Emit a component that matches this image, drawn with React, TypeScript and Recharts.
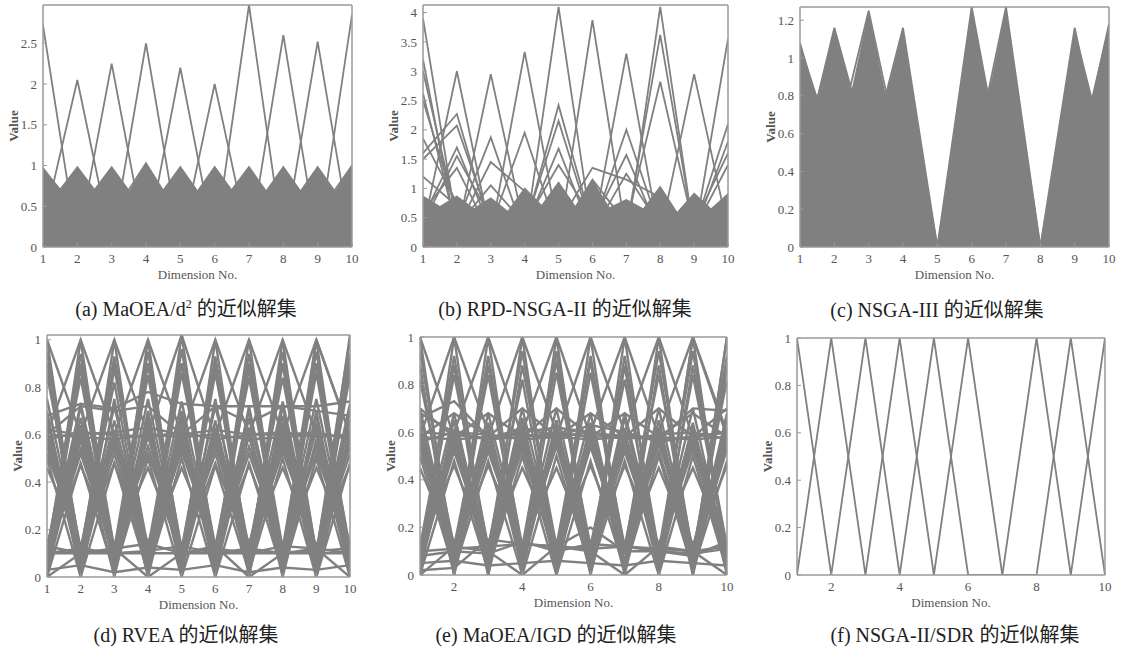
import React from 'react';
import { ComposedChart, Line, Area, XAxis, YAxis } from 'recharts';

const SERIF = '"Liberation Serif", "Times New Roman", "Noto Sans CJK SC", serif';
const GRAY = '#808080';
const AX = '#9a9a9a';
const TXT = '#555';

const dims = [1, 2, 3, 4, 5, 6, 7, 8, 9, 10];
const halfSteps = [1, 1.5, 2, 2.5, 3, 3.5, 4, 4.5, 5, 5.5, 6, 6.5, 7, 7.5, 8, 8.5, 9, 9.5, 10];

// (a) MaOEA/d2
const aTicks = [0, 0.5, 1, 1.5, 2, 2.5];
const aBandY = [0.97, 0.72, 0.98, 0.7, 0.98, 0.68, 1.03, 0.7, 0.98, 0.68, 0.98, 0.7, 0.98, 0.68, 0.98, 0.68, 0.98, 0.68, 1.0];
const aLines = [
  [2.72, 0.02, 0.3, 0.2, 0.35, 0.15, 0.25, 0.3, 0.2, 0.1],
  [0.23, 2.05, 0.03, 0.25, 0.2, 0.3, 0.15, 0.2, 0.35, 0.25],
  [0.3, 0.02, 2.25, 0.02, 0.2, 0.25, 0.3, 0.15, 0.2, 0.3],
  [0.2, 0.3, 0.03, 2.5, 0.02, 0.2, 0.25, 0.3, 0.15, 0.2],
  [0.25, 0.2, 0.3, 0.02, 2.2, 0.03, 0.2, 0.25, 0.3, 0.15],
  [0.15, 0.25, 0.2, 0.3, 0.02, 2.0, 0.05, 0.2, 0.25, 0.3],
  [0.3, 0.15, 0.25, 0.2, 0.3, 0.03, 2.97, 0.02, 0.2, 0.25],
  [0.2, 0.3, 0.15, 0.25, 0.2, 0.3, 0.02, 2.6, 0.03, 0.2],
  [0.25, 0.2, 0.3, 0.15, 0.25, 0.2, 0.3, 0.02, 2.52, 0.02],
  [0.1, 0.25, 0.2, 0.3, 0.15, 0.25, 0.2, 0.3, 0.03, 2.85],
  [0.97, 0.42, 0.3, 0.2, 0.35, 0.25, 0.3, 0.2, 0.4, 0.3],
  [0.42, 0.98, 0.42, 0.3, 0.2, 0.35, 0.25, 0.3, 0.2, 0.4],
  [0.3, 0.42, 0.98, 0.4, 0.3, 0.2, 0.35, 0.25, 0.3, 0.2],
  [0.2, 0.3, 0.38, 1.03, 0.35, 0.3, 0.2, 0.35, 0.25, 0.3],
  [0.35, 0.2, 0.3, 0.4, 0.98, 0.38, 0.3, 0.2, 0.35, 0.25],
  [0.25, 0.35, 0.2, 0.3, 0.38, 0.98, 0.4, 0.3, 0.2, 0.35],
  [0.3, 0.25, 0.35, 0.2, 0.3, 0.42, 0.98, 0.38, 0.3, 0.2],
  [0.2, 0.3, 0.25, 0.35, 0.2, 0.3, 0.38, 0.98, 0.38, 0.3],
  [0.4, 0.2, 0.3, 0.25, 0.35, 0.2, 0.3, 0.38, 0.98, 0.38],
  [0.3, 0.4, 0.2, 0.3, 0.25, 0.35, 0.2, 0.3, 0.4, 1.0],
];

// (b) RPD-NSGA-II
const bTicks = [0, 0.5, 1, 1.5, 2, 2.5, 3, 3.5, 4];
const bBandY = [0.88, 0.7, 0.88, 0.66, 0.85, 0.62, 1.02, 0.72, 1.12, 0.7, 1.15, 0.68, 0.82, 0.66, 1.05, 0.6, 0.93, 0.66, 0.92];
const bLines = [
  [3.9, 0.35, 0.2, 0.4, 0.3, 0.25, 0.3, 0.2, 0.35, 0.3],
  [3.2, 0.2, 0.4, 0.3, 0.25, 0.35, 0.2, 0.3, 0.25, 0.4],
  [3.0, 0.5, 0.3, 0.2, 0.4, 0.3, 0.35, 0.25, 0.3, 0.2],
  [2.62, 0.3, 0.25, 0.35, 0.2, 0.4, 0.3, 0.3, 0.2, 0.35],
  [2.5, 0.6, 0.35, 0.3, 0.3, 0.2, 0.25, 0.4, 0.3, 0.25],
  [1.85, 0.75, 0.3, 0.25, 0.35, 0.3, 0.2, 0.3, 0.4, 0.3],
  [1.6, 2.27, 0.3, 0.35, 0.2, 0.3, 0.4, 0.25, 0.3, 0.2],
  [1.5, 2.07, 0.4, 0.3, 0.3, 0.25, 0.3, 0.35, 0.2, 0.3],
  [1.2, 0.7, 0.3, 0.2, 0.3, 0.35, 0.25, 0.3, 0.3, 0.4],
  [0.3, 3.0, 0.2, 0.35, 0.3, 0.25, 0.3, 0.2, 0.4, 0.3],
  [0.5, 1.7, 0.3, 0.25, 0.4, 0.3, 0.2, 0.35, 0.3, 0.25],
  [0.4, 1.55, 0.5, 0.3, 0.2, 0.35, 0.3, 0.25, 0.35, 0.3],
  [0.6, 1.35, 0.2, 0.4, 0.3, 0.3, 0.35, 0.3, 0.2, 0.35],
  [0.3, 0.2, 2.95, 0.3, 0.35, 0.2, 0.3, 0.4, 0.25, 0.3],
  [0.25, 0.4, 1.87, 0.2, 0.3, 0.35, 0.25, 0.3, 0.3, 0.2],
  [0.35, 0.3, 1.45, 0.95, 0.3, 0.25, 0.3, 0.2, 0.35, 0.3],
  [0.2, 0.35, 1.05, 0.4, 0.25, 0.3, 0.35, 0.3, 0.2, 0.4],
  [0.3, 0.25, 0.2, 3.33, 0.3, 0.4, 0.3, 0.25, 0.35, 0.2],
  [0.4, 0.3, 0.35, 1.95, 0.2, 0.3, 0.25, 0.35, 0.3, 0.3],
  [0.3, 0.35, 0.3, 0.1, 4.1, 0.2, 0.3, 0.35, 0.25, 0.3],
  [0.25, 0.3, 0.4, 0.3, 2.42, 0.35, 0.2, 0.3, 0.3, 0.35],
  [0.35, 0.2, 0.3, 0.35, 2.15, 0.3, 0.3, 0.25, 0.4, 0.2],
  [0.3, 0.4, 0.25, 0.3, 1.68, 0.2, 0.35, 0.3, 0.3, 0.25],
  [0.2, 0.3, 0.35, 0.4, 1.4, 0.5, 0.3, 0.2, 0.35, 0.3],
  [0.35, 0.25, 0.3, 0.2, 0.1, 3.87, 0.2, 0.3, 0.3, 0.4],
  [0.3, 0.3, 0.2, 0.35, 0.4, 1.35, 1.15, 0.85, 0.3, 0.25],
  [0.25, 0.35, 0.3, 0.3, 0.2, 1.15, 0.4, 0.3, 0.35, 0.3],
  [0.3, 0.2, 0.35, 0.25, 0.3, 0.2, 3.3, 0.1, 0.3, 0.35],
  [0.4, 0.3, 0.3, 0.35, 0.25, 0.3, 2.0, 0.3, 0.2, 0.3],
  [0.2, 0.35, 0.25, 0.3, 0.3, 0.4, 1.57, 0.2, 0.35, 0.25],
  [0.35, 0.3, 0.4, 0.2, 0.35, 0.25, 1.25, 0.35, 0.3, 0.3],
  [0.3, 0.25, 0.3, 0.4, 0.2, 0.3, 0.1, 4.1, 0.2, 0.35],
  [0.25, 0.4, 0.2, 0.3, 0.35, 0.3, 0.3, 3.62, 0.25, 0.3],
  [0.35, 0.3, 0.35, 0.25, 0.3, 0.2, 0.4, 2.82, 0.3, 0.2],
  [0.3, 0.2, 0.3, 0.35, 0.25, 0.35, 0.3, 0.2, 2.95, 0.3],
  [0.2, 0.35, 0.25, 0.3, 0.4, 0.3, 0.25, 0.3, 0.15, 3.55],
  [0.35, 0.3, 0.3, 0.2, 0.3, 0.35, 0.3, 0.25, 0.3, 2.1],
  [0.3, 0.25, 0.35, 0.3, 0.2, 0.3, 0.4, 0.3, 0.25, 1.8],
  [0.25, 0.3, 0.2, 0.35, 0.3, 0.25, 0.3, 0.35, 0.4, 1.6],
  [0.3, 0.4, 0.3, 0.25, 0.35, 0.3, 0.2, 0.3, 0.3, 1.4],
];

// (c) NSGA-III
const cTicks = [0, 0.2, 0.4, 0.6, 0.8, 1, 1.2];
const cBandX = [1, 1.5, 2, 2.5, 3, 3.5, 4, 5, 6, 6.5, 7, 8, 9, 9.5, 10];
const cBandY = [1.08, 0.8, 1.16, 0.83, 1.25, 0.8, 1.16, 0, 1.27, 0.8, 1.27, 0, 1.16, 0.8, 1.18];
const cLines = [
  [1.08, 0.45, 0.3, 0.5, 0, 0.6, 0.4, 0, 0.5, 0.3],
  [0.4, 1.16, 0.5, 0.3, 0, 0.4, 0.6, 0, 0.3, 0.5],
  [0.3, 0.5, 1.25, 0.4, 0, 0.5, 0.3, 0, 0.6, 0.4],
  [0.5, 0.3, 0.45, 1.16, 0, 0.3, 0.5, 0, 0.4, 0.6],
  [0.4, 0.6, 0.3, 0.5, 0, 1.27, 0.3, 0, 0.5, 0.4],
  [0.3, 0.4, 0.5, 0.3, 0, 0.4, 1.27, 0, 0.3, 0.5],
  [0.5, 0.3, 0.4, 0.5, 0, 0.3, 0.4, 0, 1.16, 0.3],
  [0.4, 0.5, 0.3, 0.4, 0, 0.5, 0.3, 0, 0.35, 1.18],
  [0.3, 0.4, 1.15, 0.3, 0, 0.3, 0.4, 0, 0.5, 0.3],
  [0.5, 0.3, 0.3, 1.03, 0, 0.4, 0.3, 0, 0.3, 0.5],
  [0.3, 0.5, 0.4, 0.93, 0, 0.3, 0.5, 0, 0.4, 0.3],
  [0.4, 0.3, 0.5, 0.4, 0, 1.07, 0.3, 0, 0.5, 0.4],
  [0.5, 0.4, 0.3, 0.5, 0, 0.93, 0.4, 0, 0.3, 0.3],
  [0.3, 0.5, 0.4, 0.3, 0, 0.4, 1.2, 0, 0.4, 0.5],
  [0.4, 0.3, 0.5, 0.4, 0, 0.3, 0.5, 0, 1.03, 0.4],
  [0.3, 1.1, 0.4, 0.5, 0, 0.5, 0.3, 0, 0.4, 0.3],
];

// (d) RVEA
const unitTicks = [0, 0.2, 0.4, 0.6, 0.8, 1];
const dLines = [
  [1.0, 0.05, 1.0, 0.04, 1.02, 0.06, 1.0, 0.05, 1.0, 0.03],
  [0.95, 0.1, 0.93, 0.08, 0.96, 0.1, 0.94, 0.12, 0.95, 0.1],
  [0.9, 0.02, 0.88, 0.12, 0.9, 0.03, 0.88, 0.02, 0.9, 0.12],
  [0.85, 0.12, 0.82, 0.06, 0.86, 0.13, 0.84, 0.08, 0.86, 0.06],
  [0.75, 0.08, 0.72, 0.1, 0.74, 0.08, 0.7, 0.1, 0.75, 0.08],
  [0.7, 0.0, 0.75, 0.02, 0.7, 0.0, 0.72, 0.03, 0.7, 0.0],
  [0.62, 0.12, 0.6, 0.14, 0.62, 0.12, 0.6, 0.1, 0.62, 0.14],
  [0.6, 0.03, 0.58, 0.0, 0.6, 0.02, 0.6, 0.0, 0.58, 0.02],
  [0.55, 0.1, 0.52, 0.06, 0.55, 0.1, 0.52, 0.12, 0.55, 0.08],
  [0.5, 0.0, 0.48, 0.02, 0.5, 0.0, 0.48, 0.02, 0.5, 0.0],
  [0.46, 0.13, 0.48, 0.1, 0.46, 0.12, 0.47, 0.1, 0.46, 0.13],
  [0.65, 0.02, 0.62, 0.05, 0.66, 0.03, 0.63, 0.02, 0.65, 0.04],
  [0.57, 0.08, 0.6, 0.1, 0.58, 0.06, 0.6, 0.09, 0.57, 0.07],
  [0.52, 0.13, 0.55, 0.11, 0.53, 0.12, 0.55, 0.13, 0.52, 0.11],
  [0.68, 0.06, 0.66, 0.08, 0.68, 0.05, 0.67, 0.07, 0.68, 0.06],
  [0.04, 1.0, 0.05, 1.0, 0.03, 1.0, 0.05, 1.0, 0.04, 1.02],
  [0.1, 0.94, 0.12, 0.95, 0.1, 0.93, 0.08, 0.95, 0.1, 0.94],
  [0.03, 0.88, 0.02, 0.9, 0.12, 0.88, 0.03, 0.9, 0.02, 0.88],
  [0.12, 0.84, 0.08, 0.85, 0.06, 0.86, 0.12, 0.84, 0.08, 0.85],
  [0.08, 0.73, 0.1, 0.75, 0.08, 0.72, 0.1, 0.74, 0.08, 0.73],
  [0.0, 0.72, 0.03, 0.7, 0.02, 0.75, 0.0, 0.72, 0.03, 0.7],
  [0.14, 0.6, 0.12, 0.62, 0.1, 0.6, 0.14, 0.62, 0.12, 0.6],
  [0.02, 0.58, 0.0, 0.6, 0.03, 0.58, 0.02, 0.6, 0.0, 0.58],
  [0.08, 0.52, 0.1, 0.55, 0.12, 0.52, 0.06, 0.55, 0.1, 0.52],
  [0.0, 0.48, 0.02, 0.5, 0.0, 0.47, 0.02, 0.5, 0.0, 0.48],
  [0.12, 0.47, 0.13, 0.46, 0.1, 0.48, 0.12, 0.46, 0.13, 0.47],
  [0.03, 0.64, 0.05, 0.66, 0.02, 0.63, 0.04, 0.65, 0.03, 0.62],
  [0.07, 0.58, 0.09, 0.6, 0.06, 0.57, 0.1, 0.58, 0.08, 0.6],
  [0.11, 0.54, 0.13, 0.52, 0.12, 0.55, 0.11, 0.53, 0.13, 0.55],
  [0.05, 0.67, 0.07, 0.68, 0.06, 0.66, 0.05, 0.68, 0.07, 0.66],
  [1.0, 0.6, 0.05, 0.6, 1.02, 0.58, 0.1, 0.6, 1.0, 0.6],
  [0.6, 1.0, 0.6, 0.1, 0.6, 1.0, 0.6, 1.0, 0.6, 0.1],
  [0.1, 0.6, 1.0, 0.6, 0.1, 0.6, 1.0, 0.6, 0.1, 1.0],
  [0.6, 0.1, 0.6, 1.0, 0.6, 0.1, 0.6, 0.1, 1.0, 0.6],
  [0.6, 0.59, 0.58, 0.6, 0.59, 0.6, 0.58, 0.59, 0.6, 0.59],
  [0.58, 0.61, 0.6, 0.59, 0.61, 0.58, 0.6, 0.61, 0.59, 0.6],
  [0.62, 0.6, 0.61, 0.63, 0.6, 0.62, 0.6, 0.6, 0.61, 0.58],
  [0.68, 0.73, 0.71, 0.78, 0.73, 0.72, 0.65, 0.72, 0.72, 0.74],
  [0.6, 0.72, 0.7, 0.72, 0.6, 0.72, 0.72, 0.72, 0.7, 0.68],
  [0.1, 0.12, 0.1, 0.11, 0.13, 0.1, 0.12, 0.1, 0.11, 0.12],
  [0.13, 0.1, 0.12, 0.14, 0.1, 0.12, 0.1, 0.13, 0.12, 0.1],
  [0.03, 0.05, 0.02, 0.04, 0.03, 0.05, 0.02, 0.04, 0.03, 0.05],
  [0.0, 0.1, 0.12, 0.0, 0.1, 0.13, 0.0, 0.1, 0.12, 0.0],
  [0.9, 0.1, 0.1, 0.9, 0.1, 0.1, 0.9, 0.1, 0.1, 0.9],
  [0.1, 0.9, 0.1, 0.1, 0.9, 0.1, 0.1, 0.9, 0.1, 0.1],
  [0.1, 0.1, 0.9, 0.1, 0.1, 0.9, 0.1, 0.1, 0.9, 0.1],
];

// (e) MaOEA/IGD
const evenDims = [2, 4, 6, 8, 10];
const eLines = [
  [1.0, 0.03, 1.0, 0.03, 1.0, 0.03, 1.0, 0.03, 1.0, 0.03],
  [0.94, 0.08, 0.92, 0.1, 0.94, 0.08, 0.92, 0.1, 0.94, 0.08],
  [0.88, 0.0, 0.88, 0.12, 0.9, 0.02, 0.88, 0.0, 0.88, 0.12],
  [0.82, 0.12, 0.84, 0.06, 0.85, 0.12, 0.82, 0.06, 0.84, 0.1],
  [0.7, 0.06, 0.68, 0.1, 0.7, 0.05, 0.68, 0.1, 0.7, 0.06],
  [0.62, 0.0, 0.6, 0.02, 0.62, 0.0, 0.6, 0.02, 0.6, 0.0],
  [0.6, 0.1, 0.58, 0.12, 0.6, 0.1, 0.58, 0.12, 0.6, 0.1],
  [0.58, 0.04, 0.57, 0.06, 0.58, 0.04, 0.57, 0.06, 0.58, 0.04],
  [0.55, 0.12, 0.54, 0.08, 0.55, 0.12, 0.54, 0.08, 0.55, 0.12],
  [0.5, 0.02, 0.48, 0.0, 0.5, 0.02, 0.48, 0.0, 0.5, 0.02],
  [0.45, 0.1, 0.46, 0.13, 0.45, 0.1, 0.46, 0.13, 0.45, 0.1],
  [0.66, 0.03, 0.64, 0.05, 0.65, 0.02, 0.66, 0.04, 0.64, 0.03],
  [0.59, 0.08, 0.6, 0.06, 0.59, 0.09, 0.6, 0.07, 0.59, 0.08],
  [0.53, 0.06, 0.52, 0.11, 0.54, 0.05, 0.52, 0.1, 0.53, 0.06],
  [0.62, 0.13, 0.6, 0.1, 0.61, 0.13, 0.6, 0.11, 0.62, 0.12],
  [0.03, 1.0, 0.03, 1.0, 0.03, 1.0, 0.03, 1.0, 0.03, 1.0],
  [0.08, 0.92, 0.1, 0.94, 0.08, 0.92, 0.1, 0.94, 0.08, 0.92],
  [0.12, 0.88, 0.0, 0.88, 0.12, 0.9, 0.02, 0.88, 0.0, 0.88],
  [0.06, 0.84, 0.12, 0.82, 0.06, 0.85, 0.12, 0.84, 0.1, 0.82],
  [0.1, 0.68, 0.06, 0.7, 0.1, 0.68, 0.05, 0.7, 0.06, 0.68],
  [0.02, 0.6, 0.0, 0.62, 0.02, 0.6, 0.0, 0.62, 0.0, 0.6],
  [0.12, 0.58, 0.1, 0.6, 0.12, 0.58, 0.1, 0.6, 0.1, 0.58],
  [0.06, 0.57, 0.04, 0.58, 0.06, 0.57, 0.04, 0.58, 0.04, 0.57],
  [0.08, 0.54, 0.12, 0.55, 0.08, 0.54, 0.12, 0.55, 0.12, 0.54],
  [0.0, 0.48, 0.02, 0.5, 0.0, 0.48, 0.02, 0.5, 0.02, 0.48],
  [0.13, 0.46, 0.1, 0.45, 0.13, 0.46, 0.1, 0.45, 0.1, 0.46],
  [0.03, 0.65, 0.04, 0.66, 0.02, 0.64, 0.05, 0.65, 0.03, 0.66],
  [0.08, 0.6, 0.07, 0.59, 0.09, 0.6, 0.06, 0.59, 0.08, 0.6],
  [0.06, 0.52, 0.1, 0.53, 0.05, 0.54, 0.11, 0.52, 0.06, 0.53],
  [0.12, 0.6, 0.11, 0.62, 0.13, 0.61, 0.1, 0.6, 0.12, 0.62],
  [1.0, 0.58, 0.05, 0.6, 1.0, 0.58, 0.05, 0.6, 1.0, 0.58],
  [0.58, 1.0, 0.6, 0.05, 0.58, 1.0, 0.6, 1.0, 0.58, 0.05],
  [0.05, 0.6, 1.0, 0.58, 0.05, 0.6, 1.0, 0.58, 0.05, 1.0],
  [0.6, 0.05, 0.58, 1.0, 0.6, 0.05, 0.58, 0.05, 1.0, 0.6],
  [0.7, 0.58, 0.68, 0.58, 0.7, 0.58, 0.68, 0.58, 0.68, 0.58],
  [0.58, 0.68, 0.58, 0.7, 0.58, 0.68, 0.58, 0.7, 0.58, 0.7],
  [0.58, 0.57, 0.58, 0.59, 0.58, 0.57, 0.58, 0.58, 0.57, 0.58],
  [0.6, 0.59, 0.57, 0.58, 0.6, 0.58, 0.59, 0.57, 0.58, 0.6],
  [0.56, 0.6, 0.59, 0.57, 0.58, 0.6, 0.57, 0.59, 0.6, 0.57],
  [0.66, 0.73, 0.58, 0.6, 0.62, 0.6, 0.58, 0.57, 0.7, 0.69],
  [0.68, 0.6, 0.57, 0.62, 0.58, 0.63, 0.6, 0.56, 0.58, 0.6],
  [0.1, 0.11, 0.12, 0.13, 0.12, 0.11, 0.12, 0.11, 0.1, 0.12],
  [0.08, 0.1, 0.09, 0.14, 0.1, 0.13, 0.12, 0.1, 0.09, 0.11],
  [0.05, 0.06, 0.04, 0.05, 0.06, 0.05, 0.04, 0.06, 0.05, 0.04],
  [0.02, 0.03, 0.15, 0.13, 0.12, 0.2, 0.1, 0.1, 0.08, 0.14],
  [0.0, 0.12, 0.1, 0.0, 0.12, 0.1, 0.0, 0.12, 0.1, 0.0],
];

// (f) NSGA-II/SDR
const fLines = [
  [1, 0, 1, 0, 1, 0, 0, 1, 0, 1],
  [0, 1, 0, 1, 0, 1, 0, 0, 1, 0],
];

type PanelDef = {
  x: number; y: number; w: number; h: number;
  yMax: number; yTicks: number[]; xTicks: number[];
  lines: number[][]; lineWidth: number;
  bandX?: number[]; bandY?: number[];
  capX: number; capY: number; caption: React.ReactNode;
};

const panels: PanelDef[] = [
  { x: 43, y: 5, w: 309, h: 242, yMax: 2.97, yTicks: aTicks, xTicks: dims, lines: aLines, lineWidth: 1.8, bandX: halfSteps, bandY: aBandY,
    capX: 186, capY: 307, caption: <>(a) MaOEA/d<sup style={{ fontSize: 12, verticalAlign: 'super', lineHeight: 0 }}>2</sup> 的近似解集</> },
  { x: 423, y: 5, w: 305, h: 242, yMax: 4.13, yTicks: bTicks, xTicks: dims, lines: bLines, lineWidth: 1.8, bandX: halfSteps, bandY: bBandY,
    capX: 565, capY: 307, caption: '(b) RPD-NSGA-II 的近似解集' },
  { x: 800, y: 7, w: 309, h: 240, yMax: 1.27, yTicks: cTicks, xTicks: dims, lines: cLines, lineWidth: 1.8, bandX: cBandX, bandY: cBandY,
    capX: 937, capY: 308, caption: '(c) NSGA-III 的近似解集' },
  { x: 47, y: 335, w: 303, h: 242, yMax: 1.02, yTicks: unitTicks, xTicks: dims, lines: dLines, lineWidth: 2.4,
    capX: 186, capY: 633, caption: '(d) RVEA 的近似解集' },
  { x: 420, y: 337, w: 307, h: 238, yMax: 1, yTicks: unitTicks, xTicks: evenDims, lines: eLines, lineWidth: 2.4,
    capX: 556, capY: 633, caption: '(e) MaOEA/IGD 的近似解集' },
  { x: 797, y: 338, w: 308, h: 237, yMax: 1, yTicks: unitTicks, xTicks: evenDims, lines: fLines, lineWidth: 1.8,
    capX: 955, capY: 633, caption: '(f) NSGA-II/SDR 的近似解集' },
];

const tickStyle = { fill: TXT, fontSize: 13, fontFamily: 'Liberation Serif' };

function Panel({ p }: { p: PanelDef }) {
  const band = p.bandX && p.bandY ? p.bandX.map((x, i) => ({ x, v: p.bandY![i] })) : null;
  return (
    <>
      <div style={{ position: 'absolute', left: p.x - 50, top: p.y - 12, fontFamily: SERIF }}>
        <ComposedChart width={p.w + 60} height={p.h + 52} margin={{ top: 11, right: 9, bottom: 5, left: 8 }}>
          <XAxis type="number" dataKey="x" domain={[1, 10]} ticks={p.xTicks} interval={0} allowDataOverflow
            height={35} tickSize={-4} tickMargin={11} axisLine={{ stroke: AX, strokeWidth: 1.5 }} tickLine={{ stroke: AX }}
            tick={tickStyle}
            label={{ value: 'Dimension No.', position: 'insideBottom', offset: 3,
              style: { fill: TXT, fontSize: 13, fontFamily: 'Liberation Serif' } }} />
          <XAxis xAxisId="top" orientation="top" type="number" dataKey="x" domain={[1, 10]} ticks={p.xTicks} interval={0}
            allowDataOverflow height={1} tickSize={-4} tick={false} axisLine={{ stroke: AX, strokeWidth: 1.5 }} tickLine={{ stroke: AX }} />
          <YAxis type="number" domain={[0, p.yMax]} ticks={p.yTicks} interval={0} allowDataOverflow width={42}
            tickSize={-4} tickMargin={10} axisLine={{ stroke: AX, strokeWidth: 1.5 }} tickLine={{ stroke: AX }} tick={tickStyle}
            label={{ value: 'Value', angle: -90, position: 'insideLeft', offset: 12,
              style: { textAnchor: 'middle', fill: TXT, fontSize: 13, fontWeight: 'bold', fontFamily: 'Liberation Serif' } }} />
          <YAxis yAxisId="right" orientation="right" type="number" domain={[0, p.yMax]} ticks={p.yTicks} interval={0}
            allowDataOverflow width={1} tickSize={-4} tick={false} axisLine={{ stroke: AX, strokeWidth: 1.5 }} tickLine={{ stroke: AX }} />
          {band && (
            <Area data={band} dataKey="v" type="linear" stroke="none" fill={GRAY} fillOpacity={1}
              dot={false} activeDot={false} isAnimationActive={false} />
          )}
          {p.lines.map((ln, k) => (
            <Line key={k} data={dims.map((d, i) => ({ x: d, v: ln[i] }))} dataKey="v" type="linear"
              stroke={GRAY} strokeWidth={p.lineWidth} dot={false} activeDot={false} isAnimationActive={false} />
          ))}
        </ComposedChart>
      </div>
      <div style={{ position: 'absolute', left: p.capX, top: p.capY, transform: 'translate(-50%, -50%)',
        whiteSpace: 'nowrap', fontFamily: SERIF, fontSize: 20, color: '#222' }}>
        {p.caption}
      </div>
    </>
  );
}

export default function App() {
  return (
    <div style={{ position: 'absolute', left: 0, top: 0, width: 1123, height: 654, background: '#fff', overflow: 'hidden' }}>
      {panels.map((p, i) => <Panel key={i} p={p} />)}
    </div>
  );
}
